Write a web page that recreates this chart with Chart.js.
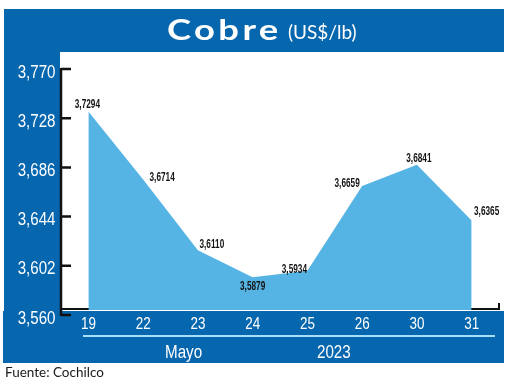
<!DOCTYPE html>
<html>
<head>
<meta charset="utf-8">
<script src="https://cdn.jsdelivr.net/npm/chart.js@4/dist/chart.umd.min.js"></script>
<style>
  html, body { margin: 0; padding: 0; background: #ffffff; }
  #wrap { position: relative; width: 520px; height: 384px; overflow: hidden; }
  canvas { position: absolute; left: 0; top: 0; }
  .t { position: absolute; color: #ffffff; white-space: nowrap; line-height: 1; transform-origin: 0 0; }
  #tmain { left: 167px; top: 12px; font: 700 28px Lato, 'Open Sans', sans-serif; letter-spacing: 2.6px; transform: scaleX(1.3); }
  #tunit { left: 288px; top: 19.5px; font: 400 19px Lato, 'Open Sans', sans-serif; }
  .sub { top: 341px; font: 400 18.5px 'Liberation Sans', Arial, sans-serif; transform: scaleX(0.82); }
  #foot { position: absolute; left: 5px; top: 364px; font: 400 13.5px Lato, 'Open Sans', sans-serif; color: #1a1a1a; white-space: nowrap; }
</style>
</head>
<body>
<div id="wrap">
  <canvas id="c" width="520" height="384"></canvas>
  <div class="t" id="tmain">Cobre</div>
  <div class="t" id="tunit">(US$/lb)</div>
  <div class="t sub" id="month" style="left:165px"></div>
  <div class="t sub" id="year" style="left:317px"></div>
  <div id="foot">Fuente: Cochilco</div>
</div>
<script>
// ---- data ----
const categories = ['19', '22', '23', '24', '25', '26', '30', '31'];
const copperPrices = [3.7294, 3.6714, 3.6110, 3.5879, 3.5934, 3.6659, 3.6841, 3.6365];
const yTickValues = [3.560, 3.602, 3.644, 3.686, 3.728, 3.770];
const monthLabel = 'Mayo';
const yearLabel = '2023';

document.getElementById('month').textContent = monthLabel;
document.getElementById('year').textContent = yearLabel;

// ---- styles ----
const FRAME_BLUE = '#0666AE';
const FILL_BLUE = '#56B4E4';
const SANS = "'Liberation Sans', Arial, sans-serif";
const labelShift = [[-1, -7], [19, -1.5], [14, -6], [0, 9], [-13, -1], [-15, -2], [2, -6], [15, -9]];
const TICK_SHIFT = 5;

const fmt = (v, d) => v.toFixed(d).replace('.', ',');

function narrowText(ctx, text, x, y, sx) {
  ctx.save();
  ctx.translate(x, y);
  ctx.scale(sx, 1);
  ctx.fillText(text, 0, 0);
  ctx.restore();
}

const framePlugin = {
  id: 'frame',
  beforeDraw(chart) {
    const ctx = chart.ctx;
    ctx.save();
    ctx.fillStyle = FRAME_BLUE;
    ctx.fillRect(4, 9, 500, 43);     // title bar
    ctx.fillRect(4, 52, 56, 260);    // left column
    ctx.fillRect(3, 311, 501, 52);   // bottom band
    ctx.strokeStyle = '#A8DDF6';
    ctx.lineWidth = 2;
    ctx.beginPath();
    ctx.moveTo(83, 336); ctx.lineTo(495, 336);
    ctx.stroke();
    ctx.restore();
  },
  beforeDatasetsDraw(chart) {
    const ctx = chart.ctx, a = chart.chartArea;
    ctx.save();
    ctx.strokeStyle = '#111';
    ctx.lineWidth = 2;
    ctx.beginPath();
    ctx.moveTo(a.left, a.bottom - 1);
    ctx.lineTo(a.right, a.bottom - 1);
    ctx.lineTo(a.right, a.bottom - 7);
    ctx.stroke();
    ctx.restore();
  },
  afterDatasetsDraw(chart) {
    const ctx = chart.ctx, a = chart.chartArea, ys = chart.scales.y, xs = chart.scales.x;
    ctx.save();
    // y axis line and inward tick marks
    ctx.strokeStyle = '#111';
    ctx.lineWidth = 2.5;
    const yTop = ys.getPixelForValue(yTickValues[yTickValues.length - 1]) + TICK_SHIFT;
    const yBot = ys.getPixelForValue(yTickValues[0]) + TICK_SHIFT;
    ctx.beginPath();
    ctx.moveTo(a.left, yTop - 1); ctx.lineTo(a.left, yBot + 1);
    yTickValues.forEach(v => {
      const p = ys.getPixelForValue(v) + TICK_SHIFT;
      ctx.moveTo(a.left, p); ctx.lineTo(a.left + 10, p);
    });
    ctx.stroke();
    // y tick labels
    ctx.fillStyle = '#ffffff';
    ctx.font = '18px ' + SANS;
    ctx.textAlign = 'right';
    ctx.textBaseline = 'alphabetic';
    yTickValues.forEach(v => {
      const p = ys.getPixelForValue(v) + TICK_SHIFT;
      narrowText(ctx, fmt(v, 3), 55.5, p + 8.5, 0.84);
    });
    // x tick labels
    ctx.font = '16px ' + SANS;
    ctx.textAlign = 'center';
    categories.forEach((c, i) => {
      narrowText(ctx, c, xs.getPixelForValue(i), 329, 0.84);
    });
    // value labels
    const meta = chart.getDatasetMeta(0);
    ctx.fillStyle = '#141414';
    ctx.font = 'bold 12.5px ' + SANS;
    ctx.textAlign = 'center';
    ctx.textBaseline = 'middle';
    meta.data.forEach((pt, i) => {
      const s = labelShift[i];
      narrowText(ctx, fmt(copperPrices[i], 4), pt.x + s[0], pt.y + s[1], 0.66);
    });
    ctx.restore();
  }
};

new Chart(document.getElementById('c'), {
  type: 'line',
  data: {
    labels: categories,
    datasets: [{
      data: copperPrices,
      fill: 'start',
      backgroundColor: FILL_BLUE,
      borderWidth: 0,
      borderColor: FILL_BLUE,
      pointRadius: 0,
      tension: 0
    }]
  },
  options: {
    responsive: false,
    animation: false,
    devicePixelRatio: 1,
    layout: { padding: { top: 64, right: 21, bottom: 0, left: 0 } },
    plugins: { legend: { display: false }, tooltip: { enabled: false } },
    scales: {
      x: {
        type: 'category',
        offset: true,
        grid: { display: false },
        border: { display: false },
        ticks: { display: false },
        afterFit(s) { s.height = 74; }
      },
      y: {
        min: yTickValues[0],
        max: yTickValues[yTickValues.length - 1],
        grid: { display: false },
        border: { display: false },
        afterBuildTicks(s) { s.ticks = yTickValues.map(v => ({ value: v })); },
        ticks: { display: false },
        afterFit(s) { s.width = 61; }
      }
    }
  },
  plugins: [framePlugin]
});
</script>
</body>
</html>
